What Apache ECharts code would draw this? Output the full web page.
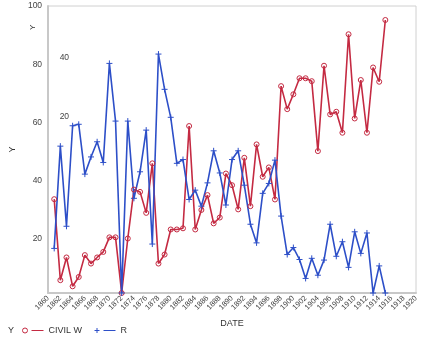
<!DOCTYPE html>
<html><head><meta charset="utf-8">
<script src="https://cdn.jsdelivr.net/npm/echarts@6/dist/echarts.min.js"></script>
<style>html,body{margin:0;padding:0;background:#fff}#c{width:423px;height:341px}</style>
</head><body><div id="c"></div>
<script>
const years = [];
for (let y = 1861; y <= 1915; y++) years.push(y);
const civilW = [33.7,5.9,13.7,3.8,7.0,14.5,11.6,13.7,15.6,20.6,20.6,1.5,20.2,37,36.2,29,46,11.6,14.7,23.3,23.3,23.7,58.8,23.3,30,35.1,25.4,27.4,42.5,38.5,30.2,47.9,31.3,52.5,41.4,44.6,33.6,72.5,64.6,69.7,75.2,75.2,74.2,50.2,79.5,62.8,63.7,56.5,90.3,61.4,74.6,56.5,78.9,74,95.2];
const rVals = [16.8,51.9,24.4,58.9,59.4,42.3,48.2,53.4,46.3,80.3,60.5,1.5,60.5,34,43.1,57.4,18.3,83.5,71.4,61.8,46,47.3,33.6,36.8,31.3,39.3,50.3,42.7,31.7,47.3,50.3,38.5,25.1,18.7,35.7,39.1,47.1,27.9,14.7,17.1,13,6.5,13.4,7.6,12.8,25.1,14.1,19.1,10.3,22.5,15.1,22.1,1.5,10.8,1.5];
const yTicks = [20,40,60,80,100];
const y2Ticks = [20,40];

const RED = '#c42a42', BLUE = '#2d4fc8';
const FONT = 'Liberation Sans';
const chart = echarts.init(document.getElementById('c'), null, {renderer:'canvas'});
chart.setOption({
  backgroundColor:'#fff',
  animation:false,
  title:{text:'Y', left:3, top:321, textStyle:{fontSize:9, fontWeight:'normal', color:'#333', fontFamily:FONT}},
  graphic:[{type:'text', x:29, y:30, rotation:Math.PI/2, style:{text:'Y', fontSize:8, fill:'#333', fontFamily:FONT}}],
  legend:{
    left:17, top:321, itemGap:12, itemWidth:21, itemHeight:5,
    textStyle:{fontSize:9, color:'#333', fontFamily:FONT},
    data:[
      {name:'CIVIL W', icon:'path://M5,2.5A2.5,2.5 0 1 1 0,2.5A2.5,2.5 0 1 1 5,2.5Z M9,2.5L21,2.5', itemStyle:{color:'rgba(0,0,0,0)', borderColor:RED, borderWidth:1}},
      {name:'R', icon:'path://M0,2.5L5,2.5M2.5,0L2.5,5M9,2.5L21,2.5', itemStyle:{color:'rgba(0,0,0,0)', borderColor:BLUE, borderWidth:1}}
    ]
  },
  grid:{left:33, right:7, top:6, bottom:48, show:true, borderColor:'#d0d0d0', borderWidth:1},
  xAxis:{type:'value', min:1860, max:1920, interval:2, name:'DATE', nameLocation:'middle', nameGap:21,
    nameTextStyle:{fontSize:9, color:'#333', fontFamily:FONT},
    axisLine:{show:true, onZero:false, lineStyle:{color:'#c8c8c8', width:2}}, axisTick:{show:false}, splitLine:{show:false},
    axisLabel:{rotate:45, fontSize:7.5, color:'#444', margin:4, fontFamily:FONT, formatter:v=>String(v)}},
  yAxis:[
    {type:'value', min:1.5, max:100, name:'Y', nameLocation:'middle', nameGap:24,
     nameTextStyle:{fontSize:9, color:'#333', fontFamily:FONT},
     axisLine:{show:true, onZero:false, lineStyle:{color:'#c8c8c8', width:2}}, axisTick:{show:false}, splitLine:{show:false},
     axisLabel:{customValues:yTicks, fontSize:8.5, color:'#444', margin:6, fontFamily:FONT}},
    {type:'value', min:-40.2, max:57.5, position:'left', offset:-25,
     axisLine:{show:false, onZero:false}, axisTick:{show:false}, splitLine:{show:false},
     axisLabel:{customValues:y2Ticks, fontSize:8.5, color:'#444', margin:4, fontFamily:FONT}}
  ],
  series:[
    {name:'CIVIL W', type:'line', yAxisIndex:0, data:years.map((y,i)=>[y,civilW[i]]),
     symbol:'circle', symbolSize:5, showAllSymbol:true,
     itemStyle:{color:'rgba(0,0,0,0)', borderColor:RED, borderWidth:1},
     lineStyle:{color:RED, width:1.6}},
    {name:'R', type:'line', yAxisIndex:0, data:years.map((y,i)=>[y,rVals[i]]),
     symbol:'path://M0,3L6,3M3,0L3,6', symbolSize:6, showAllSymbol:true,
     itemStyle:{color:'rgba(0,0,0,0)', borderColor:BLUE, borderWidth:1},
     lineStyle:{color:BLUE, width:1.6}}
  ]
});
</script></body></html>
